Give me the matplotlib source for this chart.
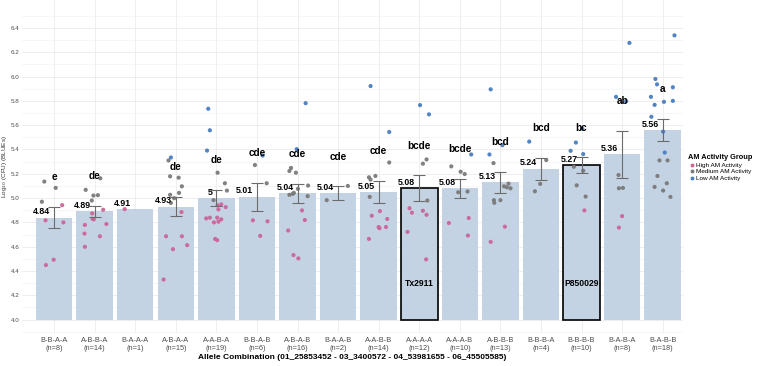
import matplotlib
matplotlib.use("Agg")
import matplotlib.pyplot as plt
import numpy as np
from matplotlib.lines import Line2D

plt.rcParams['font.family'] = ['Liberation Sans', 'DejaVu Sans']

categories = ["B-B-A-A", "A-B-B-A", "B-A-A-A", "A-B-A-A", "A-A-B-A", "B-B-A-B",
              "A-B-A-B", "B-A-A-B", "A-A-B-B", "A-A-A-A", "A-A-A-B", "A-B-B-B",
              "B-B-B-A", "B-B-B-B", "B-A-B-A", "B-A-B-B"]
n_counts = [8, 14, 1, 15, 19, 6, 16, 2, 14, 12, 10, 13, 4, 10, 8, 18]
means = [4.84, 4.89, 4.91, 4.93, 5.00, 5.01, 5.04, 5.04, 5.05, 5.08, 5.08, 5.13,
         5.24, 5.27, 5.36, 5.56]
mean_labels = ["4.84", "4.89", "4.91", "4.93", "5", "5.01", "5.04", "5.04", "5.05",
               "5.08", "5.08", "5.13", "5.24", "5.27", "5.36", "5.56"]
se = [0.089, 0.047, 0.0, 0.077, 0.067, 0.116, 0.077, 0.056, 0.094, 0.106, 0.076,
      0.085, 0.094, 0.065, 0.193, 0.091]
letters = ["e", "de", "", "de", "de", "cde", "cde", "cde", "cde", "bcde", "bcde",
           "bcd", "bcd", "bc", "ab", "a"]
highlight = {9: "Tx2911", 13: "P850029"}

# points: (category index, jitter offset, value)
high_pts = [
    (0, 0.20, 4.942), (0, -0.21, 4.817), (0, 0.23, 4.800), (0, -0.01, 4.493), (0, -0.20, 4.449),
    (1, -0.06, 4.874), (1, 0.21, 4.904), (1, -0.02, 4.825), (1, -0.24, 4.779), (1, 0.29, 4.787),
    (1, -0.25, 4.708), (1, 0.13, 4.686), (1, -0.24, 4.599), (1, -0.05, 4.830),
    (2, -0.26, 4.909),
    (3, 0.14, 4.885), (3, -0.24, 4.686), (3, 0.15, 4.686), (3, -0.07, 4.580), (3, 0.28, 4.613),
    (3, -0.30, 4.330),
    (4, 0.03, 4.940), (4, 0.12, 4.948), (4, 0.23, 4.926), (4, 0.05, 4.907), (4, -0.25, 4.833),
    (4, -0.16, 4.839), (4, 0.02, 4.839), (4, 0.12, 4.825), (4, -0.06, 4.800), (4, 0.05, 4.806),
    (4, -0.03, 4.664), (4, 0.02, 4.654),
    (5, -0.10, 4.817), (5, 0.26, 4.809), (5, 0.08, 4.689),
    (6, 0.11, 4.899), (6, 0.18, 4.820), (6, -0.23, 4.733), (6, -0.10, 4.531), (6, 0.02, 4.504),
    (8, 0.03, 4.893), (8, -0.17, 4.855), (8, 0.21, 4.828), (8, 0.00, 4.762), (8, 0.02, 4.752),
    (8, 0.18, 4.762), (8, -0.24, 4.664),
    (9, -0.24, 4.917), (9, -0.18, 4.880), (9, 0.09, 4.896), (9, 0.18, 4.863), (9, -0.29, 4.722),
    (9, 0.17, 4.496),
    (10, -0.27, 4.795), (10, 0.22, 4.836), (10, 0.20, 4.692),
    (11, 0.11, 4.765), (11, -0.24, 4.640),
    (13, 0.07, 4.899),
    (14, 0.00, 4.852), (14, -0.08, 4.757),
]
medium_pts = [
    (0, -0.24, 5.136), (0, 0.04, 5.084), (0, -0.30, 4.970),
    (1, 0.14, 5.163), (1, -0.22, 5.068), (1, -0.03, 5.021), (1, 0.08, 5.024), (1, -0.07, 4.980),
    (3, -0.18, 5.310), (3, -0.14, 5.179), (3, 0.07, 5.168), (3, 0.15, 5.097), (3, 0.08, 5.043),
    (3, -0.14, 5.027), (3, -0.04, 4.999), (3, -0.12, 4.960),
    (4, 0.03, 5.209), (4, 0.21, 5.122), (4, 0.26, 5.062), (4, -0.07, 4.983),
    (5, -0.05, 5.272), (5, 0.24, 5.122),
    (6, -0.16, 5.248), (6, -0.20, 5.223), (6, -0.04, 5.209), (6, 0.26, 5.103), (6, 0.01, 5.076),
    (6, -0.09, 5.043), (6, -0.20, 5.027), (6, 0.25, 5.016), (6, -0.12, 5.035),
    (7, -0.28, 4.983), (7, 0.24, 5.100),
    (8, 0.26, 5.293), (8, -0.08, 5.182), (8, -0.24, 5.171), (8, -0.20, 5.152), (8, -0.22, 5.010),
    (9, 0.18, 5.318), (9, 0.09, 5.283), (9, 0.20, 4.980),
    (10, -0.21, 5.261), (10, 0.02, 5.217), (10, 0.12, 5.198), (10, -0.04, 5.048), (10, 0.19, 5.054),
    (11, -0.17, 5.288), (11, 0.20, 5.119), (11, 0.09, 5.097), (11, 0.16, 5.089), (11, 0.25, 5.081),
    (11, -0.16, 4.983), (11, -0.15, 4.961), (11, 0.00, 4.983),
    (12, 0.13, 5.313), (12, -0.02, 5.117), (12, -0.15, 5.056),
    (13, -0.19, 5.258), (13, 0.04, 5.225), (13, -0.12, 5.105), (13, 0.10, 5.013),
    (14, -0.09, 5.190), (14, -0.08, 5.081), (14, 0.02, 5.084),
    (15, -0.08, 5.310), (15, 0.12, 5.310), (15, -0.13, 5.182), (15, 0.10, 5.122), (15, -0.20, 5.092),
    (15, 0.01, 5.062), (15, 0.19, 5.010),
]
low_pts = [
    (3, -0.12, 5.334),
    (4, -0.20, 5.735), (4, -0.16, 5.558), (4, -0.23, 5.391),
    (5, 0.14, 5.350),
    (6, 0.20, 5.781), (6, -0.02, 5.403),
    (8, -0.20, 5.922), (8, 0.26, 5.544),
    (9, 0.02, 5.765), (9, 0.24, 5.689),
    (10, 0.28, 5.359),
    (11, -0.24, 5.895), (11, 0.05, 5.435), (11, -0.27, 5.359),
    (12, -0.29, 5.465),
    (13, -0.14, 5.457), (13, -0.27, 5.389), (13, 0.04, 5.362), (13, 0.02, 5.570),
    (14, 0.18, 6.277), (14, -0.15, 5.833), (14, 0.10, 5.797),
    (15, 0.29, 6.339), (15, -0.18, 5.980), (15, -0.14, 5.936), (15, 0.25, 5.912), (15, -0.29, 5.833),
    (15, -0.20, 5.767), (15, 0.03, 5.792), (15, 0.25, 5.800), (15, -0.28, 5.669), (15, 0.01, 5.547),
    (15, 0.05, 5.375),
]
groups = [("High AM Activity", high_pts, "#CC6699"),
          ("Medium AM Activity", medium_pts, "#7A7A7A"),
          ("Low AM Activity", low_pts, "#4A7FC0")]

YMIN = 4.0
fig = plt.figure(figsize=(7.57, 3.66), dpi=100)
ax = fig.add_axes([22 / 757, 33 / 366, (683 - 22) / 757, 333 / 366])

x = np.arange(len(categories))
bar_color = "#C4D3E4"
ax.bar(x, np.array(means) - YMIN, bottom=YMIN, width=0.9, color=bar_color,
       edgecolor="none", zorder=2)
for i, lab in highlight.items():
    ax.bar(x[i], means[i] - YMIN, bottom=YMIN, width=0.9, facecolor="none",
           edgecolor="black", linewidth=1.2, zorder=3)
    ax.text(x[i], 4.295, lab, ha="center", va="center", fontsize=6.2,
            fontweight="bold", color="black", zorder=6)

for name, pts, col in groups:
    px = [c + j for c, j, v in pts]
    py = [v for c, j, v in pts]
    ax.scatter(px, py, s=9, color=col, edgecolors="none", zorder=4, alpha=0.95)

for i in range(len(categories)):
    if n_counts[i] > 1:
        ax.errorbar(x[i], means[i], yerr=se[i], fmt="none", ecolor="#6b6b6b",
                    elinewidth=0.8, capsize=4.3, capthick=0.8, zorder=5)
    ax.text(x[i] - 0.1, means[i] + 0.012, mean_labels[i], ha="right", va="bottom",
            fontsize=6.3, fontweight="bold", color="black", zorder=6)
    if letters[i]:
        ax.text(x[i], means[i] + se[i] + 0.245, letters[i], ha="center", va="center",
                fontsize=7.2, fontweight="bold", color="black", zorder=6)

ax.set_xlim(-0.79, 15.5)
ax.set_ylim(3.89, 6.63)
ax.set_xticks(x)
ax.set_xticklabels([f"{c}\n(n={n})" for c, n in zip(categories, n_counts)],
                   fontsize=5.3, color="#4D4D4D", linespacing=1.1)
yt = np.round(np.arange(4.0, 6.41, 0.2), 1)
ax.set_yticks(yt)
ax.set_yticklabels([f"{v:.1f}" for v in yt], fontsize=4.5, color="#4D4D4D")
ax.set_yticks(np.round(np.arange(3.9, 6.61, 0.2), 1), minor=True)
ax.tick_params(axis="both", which="both", length=0, pad=2)
ax.tick_params(axis="x", which="major", pad=3)
ax.grid(True, which="major", color="#EBEBEB", linewidth=0.6, zorder=0)
ax.grid(True, which="minor", axis="y", color="#F3F3F3", linewidth=0.5, zorder=0)
ax.set_axisbelow(True)
for s in ax.spines.values():
    s.set_visible(False)

ax.set_ylabel("Log$_{10}$ (CFU) (BLUEs)", fontsize=4.6, color="#333333")
ax.yaxis.set_label_coords(-0.019, 0.5)
ax.set_xlabel("Allele Combination (01_25853452 - 03_3400572 - 04_53981655 - 06_45505585)",
              fontsize=6, fontweight="bold", color="black", labelpad=2)

handles = [Line2D([0], [0], marker="o", linestyle="none", markersize=2.8,
                  markerfacecolor=c, markeredgecolor="none", label=n)
           for n, p, c in groups]
leg = fig.legend(handles=handles, title="AM Activity Group", loc="upper left",
                 bbox_to_anchor=(684 / 757, 1 - 150 / 366), frameon=False,
                 fontsize=4.6, title_fontsize=5.3, handletextpad=0.1,
                 labelspacing=0.15, borderpad=0.2, handlelength=1.0)
leg.get_title().set_fontweight("bold")
leg._legend_box.align = "left"

fig.savefig("out.png", dpi=100)
